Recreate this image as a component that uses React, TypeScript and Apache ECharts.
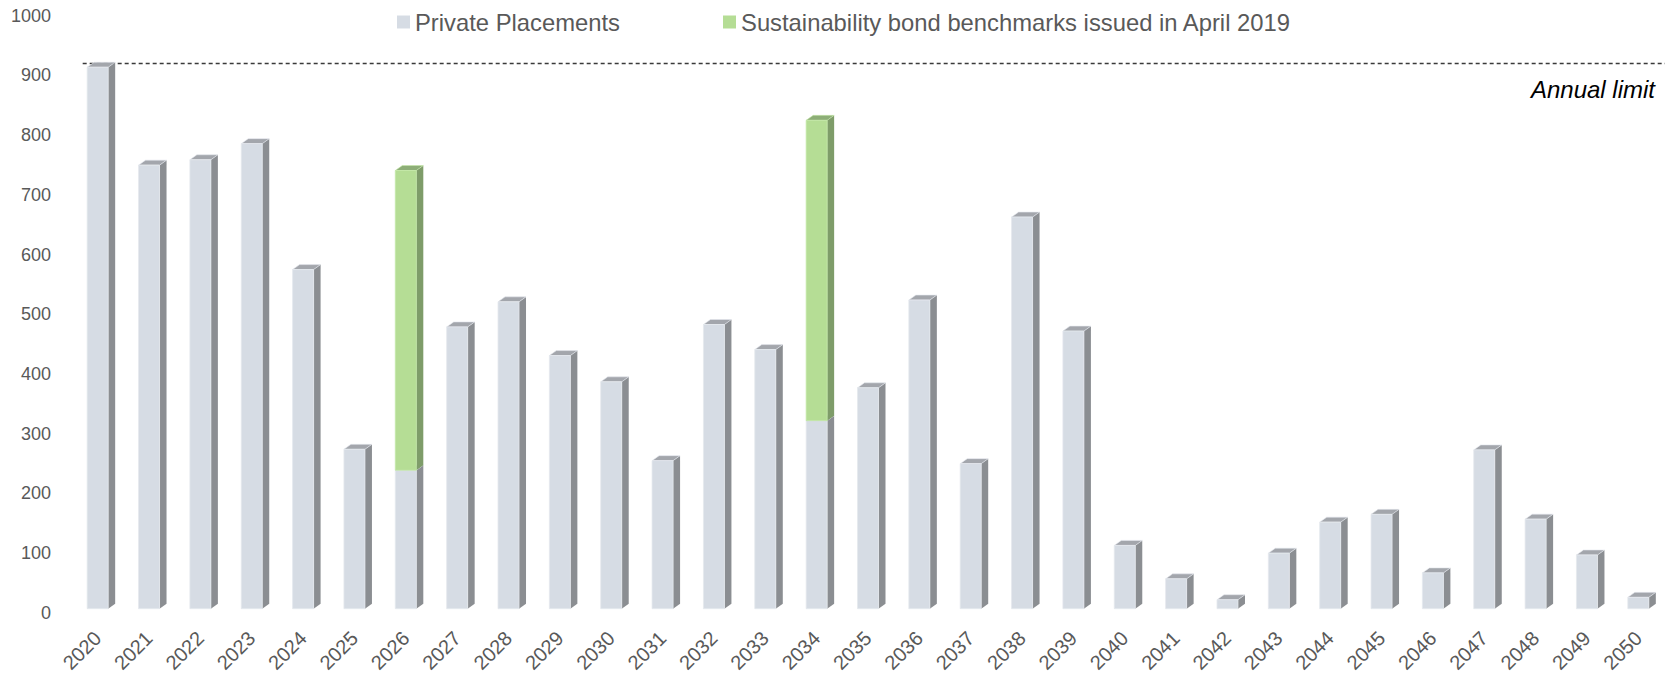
import React, { useEffect, useRef } from "react";
import * as echarts from "echarts";

const years = [
  "2020", "2021", "2022", "2023", "2024", "2025", "2026", "2027", "2028", "2029",
  "2030", "2031", "2032", "2033", "2034", "2035", "2036", "2037", "2038", "2039",
  "2040", "2041", "2042", "2043", "2044", "2045", "2046", "2047", "2048", "2049", "2050",
];
const privatePlacements = [
  907, 743, 752, 779, 568, 267, 232, 472, 514, 424,
  380, 248, 476, 434, 315, 370, 517, 243, 656, 465,
  106, 50, 15, 93, 145, 158, 60, 266, 150, 90, 19,
];
const sustainabilityBonds: (number | null)[] = [
  null, null, null, null, null, null, 502, null, null, null,
  null, null, null, null, 503, null, null, null, null, null,
  null, null, null, null, null, null, null, null, null, null, null,
];
const annualLimit = 920;
const annualLimitLabel = "Annual limit";
const seriesNames = ["Private Placements", "Sustainability bond benchmarks issued in April 2019"];

const FONT = "'Liberation Sans', Arial, sans-serif";

type Faces = { front: string; side: string; top: string; edge: string };
const greyFaces: Faces = { front: "#D6DCE4", side: "#8B8E92", top: "#A3A6AC", edge: "#E4E8EE" };
const greenFaces: Faces = { front: "#B5DD95", side: "#7E9C69", top: "#8DAE77", edge: "#C4E8A8" };

function makeRender(f: Faces) {
  return (params: any, api: any) => {
    const i = api.value(0);
    const lo = api.value(1);
    const hi = api.value(2);
    const p0 = api.coord([i, lo]);
    const p1 = api.coord([i, hi]);
    const cx = p0[0];
    const lift = 4;
    const w = 21;
    const dx = 7;
    const dy = 5;
    const xl = cx - w / 2;
    const xr = cx + w / 2;
    const yb = p0[1] - lift;
    const yt = p1[1] - lift;
    return {
      type: "group",
      children: [
        {
          type: "polygon",
          shape: { points: [[xr, yb], [xr + dx, yb - dy], [xr + dx, yt - dy], [xr, yt]] },
          style: { fill: f.side },
        },
        {
          type: "polygon",
          shape: { points: [[xl, yt], [xr, yt], [xr + dx, yt - dy], [xl + dx, yt - dy]] },
          style: { fill: f.top, stroke: f.edge, lineWidth: 0.6 },
        },
        {
          type: "rect",
          shape: { x: xl, y: yt, width: w, height: yb - yt },
          style: { fill: f.front, stroke: f.edge, lineWidth: 0.8 },
        },
      ],
    };
  };
}

export default function App() {
  const ref = useRef<HTMLDivElement>(null);
  useEffect(() => {
    if (!ref.current) return;
    const chart = echarts.init(ref.current, undefined, { renderer: "svg" });
    const greyData = privatePlacements.map((v, i) => [i, 0, v]);
    const greenData: number[][] = [];
    sustainabilityBonds.forEach((g, i) => {
      if (g != null) greenData.push([i, privatePlacements[i], privatePlacements[i] + g]);
    });
    chart.setOption({
      animation: false,
      backgroundColor: "#ffffff",
      textStyle: { fontFamily: FONT },
      legend: {
        left: 392,
        top: 5,
        itemWidth: 13,
        itemHeight: 13,
        itemGap: 103,
        icon: "rect",
        textStyle: { fontFamily: FONT, fontSize: 23.8, color: "#595959" },
        data: [
          { name: seriesNames[0], itemStyle: { color: greyFaces.front } },
          { name: seriesNames[1], itemStyle: { color: greenFaces.front } },
        ],
      },
      grid: {
        left: 72,
        right: 1,
        top: 15.7,
        bottom: 60.3,
        containLabel: false,
        outerBoundsMode: "none",
      },
      xAxis: {
        type: "category",
        data: years,
        axisLine: { show: false },
        axisTick: { show: false },
        splitLine: { show: false },
        axisLabel: {
          rotate: 45,
          interval: 0,
          margin: 22,
          fontSize: 20,
          color: "#595959",
          fontFamily: FONT,
        },
      },
      yAxis: {
        type: "value",
        min: 0,
        max: 1000,
        interval: 100,
        axisLine: { show: false },
        axisTick: { show: false },
        splitLine: { show: false },
        axisLabel: {
          margin: 21,
          fontSize: 18,
          color: "#595959",
          fontFamily: FONT,
          formatter: (v: number) => String(v),
        },
      },
      series: [
        {
          name: seriesNames[0],
          type: "custom",
          itemStyle: { color: greyFaces.front },
          renderItem: makeRender(greyFaces),
          encode: { x: 0, y: [1, 2] },
          data: greyData,
        },
        {
          name: seriesNames[1],
          type: "custom",
          itemStyle: { color: greenFaces.front },
          renderItem: makeRender(greenFaces),
          encode: { x: 0, y: [1, 2] },
          data: greenData,
        },
      ],
    });
    const yLim = chart.convertToPixel({ yAxisIndex: 0 }, annualLimit) as number;
    const xFirst = chart.convertToPixel({ xAxisIndex: 0 }, 0) as number;
    chart.setOption({
      graphic: [
        {
          type: "line",
          silent: true,
          shape: { x1: xFirst - 15, y1: yLim, x2: 1665, y2: yLim },
          style: { stroke: "#3A3A3A", lineWidth: 1.4, lineDash: [4, 3] },
        },
        {
          type: "text",
          silent: true,
          x: 1655,
          y: yLim + 26,
          style: {
            text: annualLimitLabel,
            textAlign: "right",
            textVerticalAlign: "middle",
            fontFamily: FONT,
            fontStyle: "italic",
            fontSize: 24,
            fill: "#000000",
          },
        },
      ],
    });
    return () => chart.dispose();
  }, []);
  return (
    <div
      ref={ref}
      style={{ position: "absolute", left: 0, top: 0, width: 1665, height: 673 }}
    />
  );
}
